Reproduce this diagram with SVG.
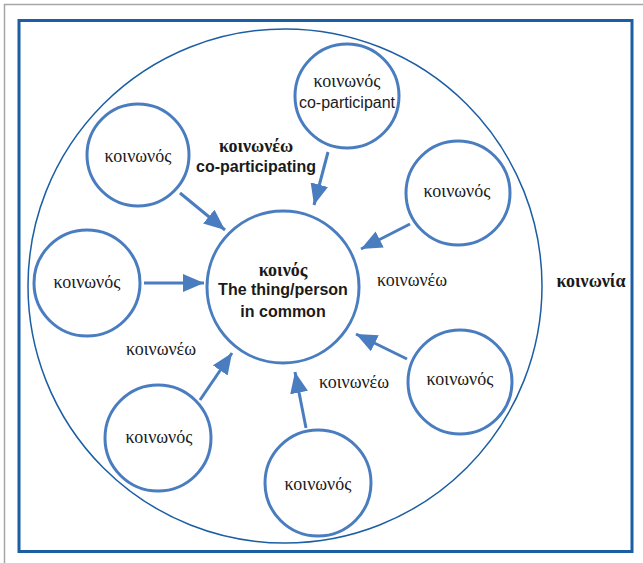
<svg xmlns="http://www.w3.org/2000/svg" width="643" height="563" viewBox="0 0 643 563">
<style>
.node{fill:#fff;stroke:#4a7dbf;stroke-width:3}
.conn{stroke:#4a7dbf;stroke-width:3;fill:none}
.gr{font-family:"Liberation Serif","DejaVu Serif",serif;font-size:18px;fill:#1a1a1a;text-anchor:middle}
.grb{font-family:"Liberation Serif","DejaVu Serif",serif;font-size:18px;font-weight:bold;fill:#1a1a1a;text-anchor:middle}
.en{font-family:"Liberation Sans","Arial",sans-serif;font-size:16px;fill:#1a1a1a;text-anchor:middle}
.enb{font-family:"Liberation Sans","Arial",sans-serif;font-size:16px;font-weight:bold;fill:#1a1a1a;text-anchor:middle}
</style>
<defs>
<marker id="ah" markerWidth="7" markerHeight="6" refX="7" refY="3" orient="auto" markerUnits="strokeWidth">
<path d="M0,0 L7,3 L0,6 Z" fill="#4a7dbf"/>
</marker>
</defs>
<rect width="643" height="563" fill="#fff"/>
<path d="M4.5,563 V4.5 H643" fill="none" stroke="#a6a6a6" stroke-width="1.5"/>
<rect x="19" y="20.5" width="613" height="531" fill="none" stroke="#1b5ea4" stroke-width="3"/>
<g id="community">
<circle cx="285" cy="286" r="257" fill="none" stroke="#1b5ea4" stroke-width="1.5"/>
<text class="grb" x="591" y="287">κοινωνία</text>
</g>
<g id="connectors">
<line class="conn" x1="328" y1="152" x2="314" y2="205" marker-end="url(#ah)"/>
<line class="conn" x1="180" y1="193" x2="225" y2="230" marker-end="url(#ah)"/>
<line class="conn" x1="410" y1="224" x2="361" y2="249" marker-end="url(#ah)"/>
<line class="conn" x1="144" y1="283" x2="204" y2="283" marker-end="url(#ah)"/>
<line class="conn" x1="407" y1="359" x2="356" y2="334" marker-end="url(#ah)"/>
<line class="conn" x1="200" y1="400" x2="232" y2="353" marker-end="url(#ah)"/>
<line class="conn" x1="306" y1="428" x2="295" y2="372" marker-end="url(#ah)"/>
</g>
<g id="center">
<circle class="node" cx="283" cy="287" r="76"/>
<text class="grb" x="283" y="276">κοινός</text>
<text class="enb" x="283" y="295">The thing/person</text>
<text class="enb" x="283" y="317">in common</text>
</g>
<g id="n-top">
<circle class="node" cx="347" cy="96" r="52"/>
<text class="gr" x="347" y="87">κοινωνός</text>
<text class="en" x="347" y="108">co-participant</text>
</g>
<g id="n-upleft">
<circle class="node" cx="138" cy="155" r="51"/>
<text class="gr" x="138" y="162">κοινωνός</text>
</g>
<g id="n-upright">
<circle class="node" cx="458" cy="193" r="52"/>
<text class="gr" x="457" y="197">κοινωνός</text>
</g>
<g id="n-left">
<circle class="node" cx="87" cy="283" r="53"/>
<text class="gr" x="87" y="288">κοινωνός</text>
</g>
<g id="n-lowright">
<circle class="node" cx="460" cy="382" r="52"/>
<text class="gr" x="460" y="385">κοινωνός</text>
</g>
<g id="n-lowleft">
<circle class="node" cx="158" cy="438" r="53"/>
<text class="gr" x="159" y="443">κοινωνός</text>
</g>
<g id="n-bottom">
<circle class="node" cx="318" cy="483" r="53"/>
<text class="gr" x="318" y="490">κοινωνός</text>
</g>
<g id="labels">
<text class="grb" x="256" y="152">κοινωνέω</text>
<text class="enb" x="256" y="172">co-participating</text>
<text class="gr" x="412" y="286">κοινωνέω</text>
<text class="gr" x="161" y="355">κοινωνέω</text>
<text class="gr" x="354" y="388">κοινωνέω</text>
</g>
</svg>
